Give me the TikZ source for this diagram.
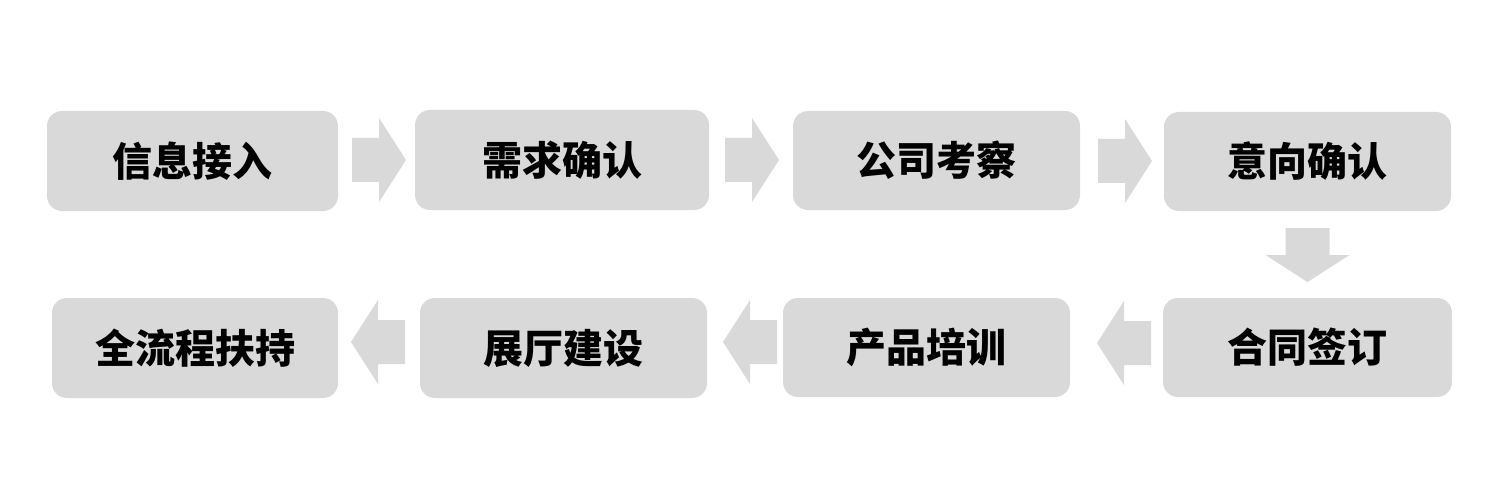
\documentclass[tikz,border=0pt]{standalone}
\usepackage{fontspec}
\newfontfamily\cjk{Noto Sans CJK SC}
\usetikzlibrary{calc}
\definecolor{boxgray}{HTML}{D9D9D9}
\tikzset{
  stepbox/.style={fill=boxgray, rounded corners=15pt, minimum width=288pt, minimum height=100pt,
    inner sep=0pt, font=\cjk\bfseries\fontsize{40pt}{44pt}\selectfont, text=black},
  arrowfill/.style={fill=boxgray}
}
\newcommand\blockarrow[2]{\fill[arrowfill,shift={(#1)},rotate=#2] (0,-22) -- (27,-22) -- (27,-42) -- (54,0) -- (27,42) -- (27,22) -- (0,22) -- cycle;}
\begin{document}
\begin{tikzpicture}[x=1pt,y=-1pt]
\fill[white] (0,0) rectangle (1500,500);
\useasboundingbox (0,0) rectangle (1500,500);
% top row
\node[stepbox, minimum width=291pt] (b1) at (192.5,161) {信息接入};
\node[stepbox, minimum width=294pt] (b2) at (562,160) {需求确认};
\node[stepbox, minimum width=287pt, minimum height=99pt] (b3) at (936.5,160.5) {公司考察};
\node[stepbox, minimum width=287pt, minimum height=99pt] (b4) at (1307.5,161.5) {意向确认};
% bottom row
\node[stepbox, minimum width=289pt, minimum height=99pt] (b5) at (1307.5,347.5) {合同签订};
\node[stepbox, minimum width=287pt, minimum height=99pt] (b6) at (926.5,347.5) {产品培训};
\node[stepbox, minimum width=287pt] (b7) at (563.5,348) {展厅建设};
\node[stepbox, minimum width=286pt] (b8) at (195,348) {全流程扶持};
% arrow anchors
\coordinate (a1) at (352,160);
\coordinate (a2) at (725,160);
\coordinate (a3) at (1098,161);
\coordinate (a4) at (1307.5,228);
\coordinate (a5) at (1151,343);
\coordinate (a6) at (777,342);
\coordinate (a7) at (405,342);
\blockarrow{a1}{0}
\blockarrow{a2}{0}
\blockarrow{a3}{0}
\blockarrow{a4}{-90}
\blockarrow{a5}{180}
\blockarrow{a6}{180}
\blockarrow{a7}{180}
\end{tikzpicture}
\end{document}
